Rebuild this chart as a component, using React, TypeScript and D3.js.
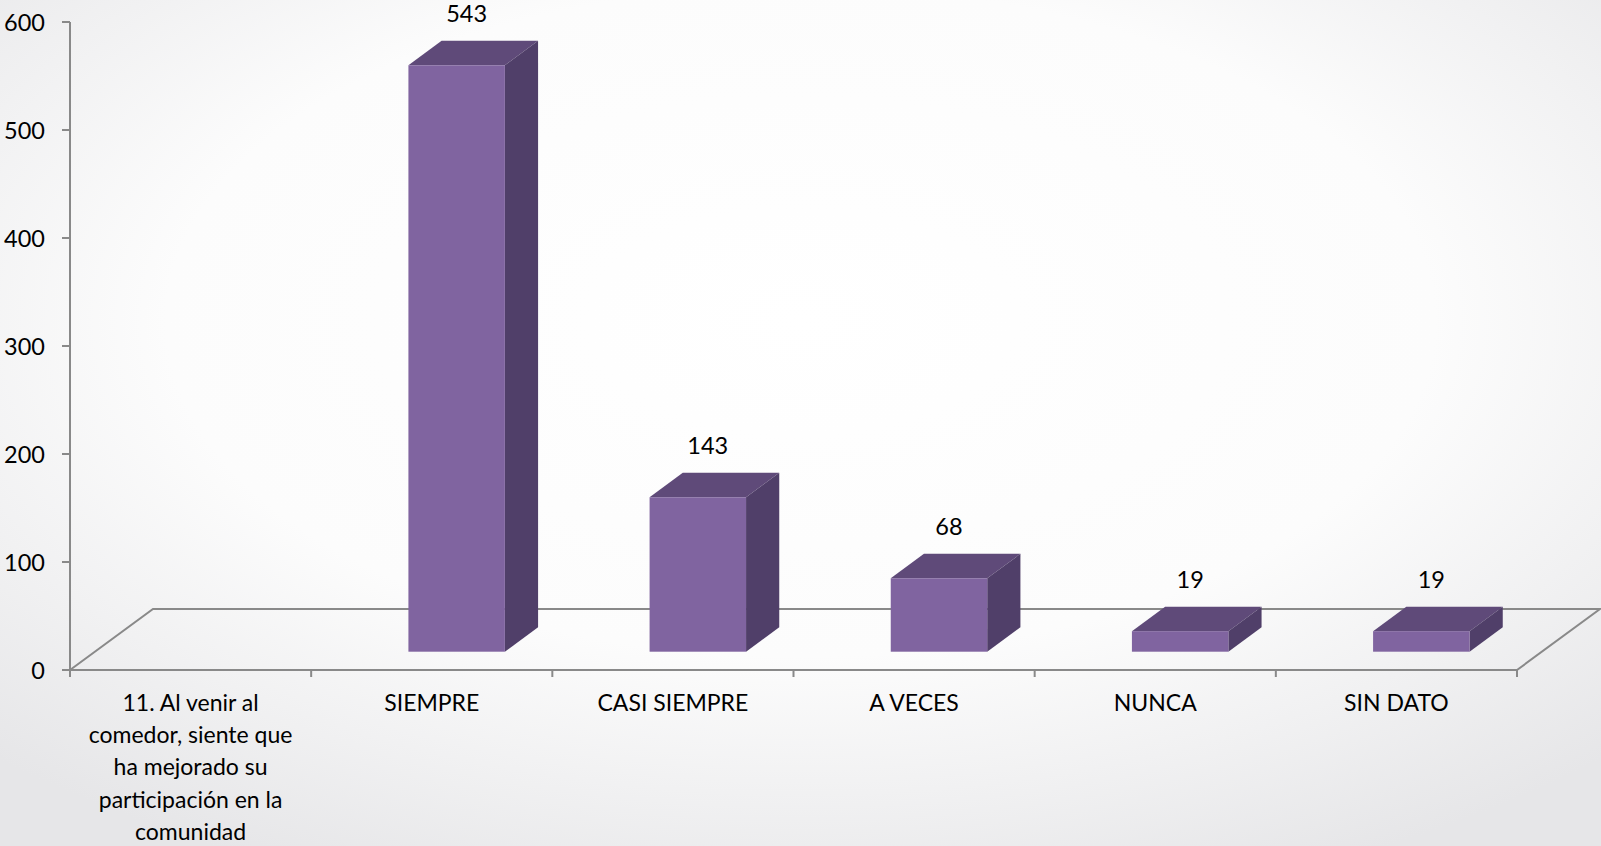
import React, { useEffect, useRef } from "react";
import * as d3 from "d3";

const categories = [
  "11. Al venir al\ncomedor, siente que\nha mejorado su\nparticipación en la\ncomunidad",
  "SIEMPRE",
  "CASI SIEMPRE",
  "A VECES",
  "NUNCA",
  "SIN DATO",
];
const values: (number | null)[] = [null, 543, 143, 68, 19, 19];
const yTicks = [0, 100, 200, 300, 400, 500, 600];

const W = 1601;
const H = 846;
const FONT = "Lato, 'Liberation Sans', sans-serif";

export default function App() {
  const ref = useRef<SVGSVGElement | null>(null);

  useEffect(() => {
    const svg = d3.select(ref.current);
    svg.selectAll("*").remove();

    const x0 = 70, x1 = 1517, yZero = 670, yTop = 22;
    const depth = { dx: 83, dy: -61 };
    const barFront = 0.3, barBack = 0.7;

    const x = d3.scaleBand<string>().domain(categories).range([x0, x1]).padding(0);
    const y = d3.scaleLinear().domain([0, 600]).range([yZero, yTop]);

    const defs = svg.append("defs");
    const rg = defs.append("radialGradient").attr("id", "bg")
      .attr("cx", "50%").attr("cy", "38%").attr("r", "72%");
    rg.append("stop").attr("offset", "0").attr("stop-color", "#ffffff");
    rg.append("stop").attr("offset", "0.55").attr("stop-color", "#fcfcfc");
    rg.append("stop").attr("offset", "1").attr("stop-color", "#e6e6e8");
    svg.append("rect").attr("width", W).attr("height", H).attr("fill", "url(#bg)");

    const axisColor = "#898989";

    // floor
    const floor = svg.append("g").attr("fill", "none").attr("stroke", axisColor).attr("stroke-width", 2);
    floor.append("path").attr("d",
      `M${x0},${yZero}L${x0 + depth.dx},${yZero + depth.dy}L${x1 + depth.dx},${yZero + depth.dy}L${x1},${yZero}`);

    // bars
    const bw = x.bandwidth() * 0.4;
    const fdx = depth.dx * barFront, fdy = depth.dy * barFront;
    const ddx = depth.dx * (barBack - barFront), ddy = depth.dy * (barBack - barFront);
    const bars = svg.append("g");
    categories.forEach((c, i) => {
      const v = values[i];
      if (v == null) return;
      const cx = (x(c) as number) + x.bandwidth() / 2;
      const L = cx - bw / 2 + fdx, R = cx + bw / 2 + fdx;
      const B = y(0) + fdy, T = y(v) + fdy;
      const g = bars.append("g");
      g.append("path").attr("fill", "#5f4a79")
        .attr("d", `M${L},${T}L${L + ddx},${T + ddy}L${R + ddx},${T + ddy}L${R},${T}Z`);
      g.append("path").attr("fill", "#503f69")
        .attr("d", `M${R},${T}L${R + ddx},${T + ddy}L${R + ddx},${B + ddy}L${R},${B}Z`);
      g.append("rect").attr("fill", "#8064a0")
        .attr("x", L).attr("y", T).attr("width", R - L).attr("height", B - T);
      g.append("text").attr("x", cx + fdx + 10).attr("y", T - 43)
        .attr("text-anchor", "middle").attr("font-family", FONT).attr("font-size", 23.5)
        .attr("fill", "#000").text(String(v));
    });

    // y axis
    const ax = svg.append("g").attr("stroke", axisColor).attr("stroke-width", 2);
    ax.append("line").attr("x1", x0).attr("x2", x0).attr("y1", yTop).attr("y2", yZero + 7);
    yTicks.forEach((t) => {
      ax.append("line").attr("x1", x0 - 8).attr("x2", x0).attr("y1", y(t)).attr("y2", y(t));
    });
    ax.append("line").attr("x1", x0).attr("x2", x1).attr("y1", yZero).attr("y2", yZero);
    const edges = categories.map((c) => x(c) as number).concat([x1]);
    edges.forEach((e) => {
      ax.append("line").attr("x1", e).attr("x2", e).attr("y1", yZero).attr("y2", yZero + 7);
    });

    svg.append("g").selectAll("text").data(yTicks).join("text")
      .attr("x", 45).attr("y", (d) => y(d) + 8.5)
      .attr("text-anchor", "end").attr("font-family", FONT).attr("font-size", 23.5)
      .attr("fill", "#000").text((d) => String(d));

    // category labels
    const cl = svg.append("g");
    categories.forEach((c) => {
      const cx = (x(c) as number) + x.bandwidth() / 2;
      const t = cl.append("text").attr("text-anchor", "middle").attr("font-family", FONT)
        .attr("font-size", 23).attr("fill", "#000");
      c.split("\n").forEach((line, k) => {
        t.append("tspan").attr("x", cx).attr("y", 711 + k * 32.2).text(line);
      });
    });
  }, []);

  return (
    <svg ref={ref} width={W} height={H}
      style={{ position: "absolute", left: 0, top: 0, display: "block" }} />
  );
}
